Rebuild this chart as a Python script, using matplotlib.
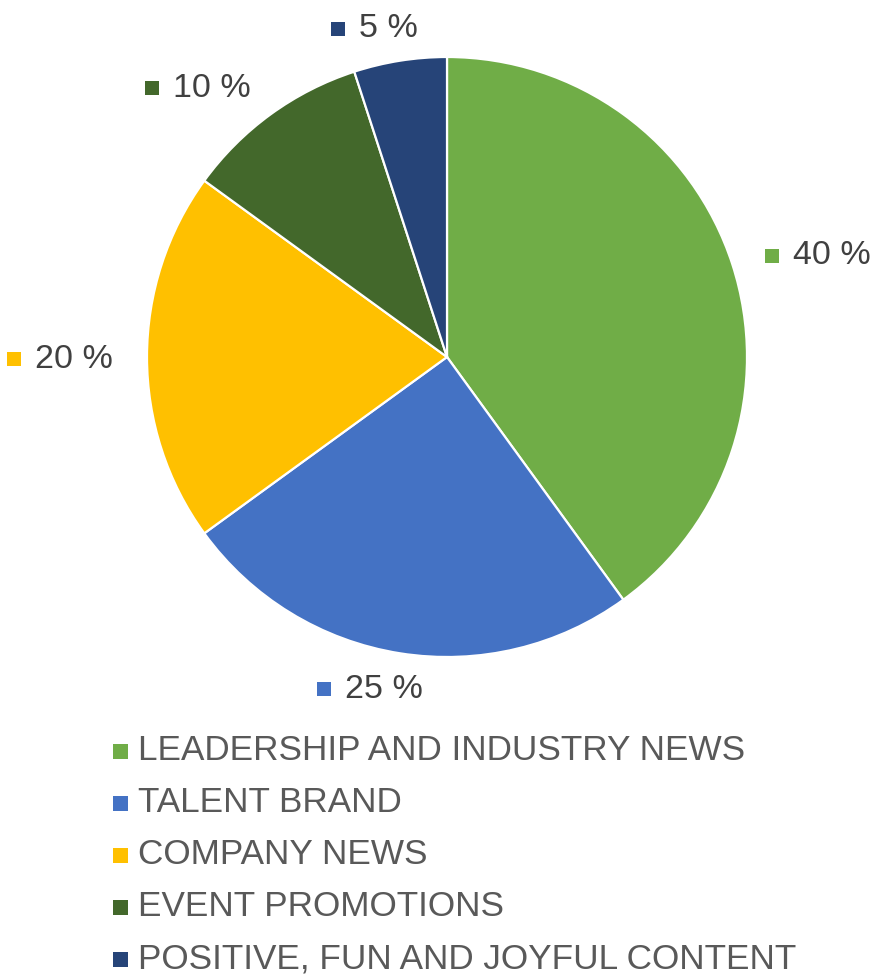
import numpy as np
import matplotlib
matplotlib.use("Agg")
import matplotlib.pyplot as plt
from matplotlib.patches import Rectangle

plt.rcParams['font.family'] = ['Liberation Sans', 'DejaVu Sans']

categories = [
    "LEADERSHIP AND INDUSTRY NEWS",
    "TALENT BRAND",
    "COMPANY NEWS",
    "EVENT PROMOTIONS",
    "POSITIVE, FUN AND JOYFUL CONTENT",
]
shares = [40, 25, 20, 10, 5]
colors = ["#70AD47", "#4472C4", "#FFC000", "#43682B", "#264478"]

W, H = 882, 977
fig = plt.figure(figsize=(W / 100, H / 100), dpi=100)
ax = fig.add_axes([0, 0, 1, 1])

cx, cy, R = 447, H - 357, 300
wedges, _ = ax.pie(shares, colors=colors, startangle=90, counterclock=False,
                   center=(cx, cy), radius=R,
                   wedgeprops=dict(edgecolor="white", linewidth=1.6))
ax.set_xlim(0, W)
ax.set_ylim(0, H)
ax.axis("off")

fig.canvas.draw()
renderer = fig.canvas.get_renderer()

label_color = "#404040"
sq = 14      # square marker size (px)
gap = 14     # gap between square and text
r_lab = R * 1.115

for w, val, col in zip(wedges, shares, colors):
    ang = np.deg2rad((w.theta1 + w.theta2) / 2)
    c, s = np.cos(ang), np.sin(ang)
    px, py = cx + r_lab * c, cy + r_lab * s - 2
    t = ax.text(0, 0, f"{val} %", fontsize=24.5, color=label_color,
                ha="left", va="center")
    tw = t.get_window_extent(renderer).width
    total = sq + gap + tw
    shift = total / 2 * np.sign(c) * min(1.0, abs(c) * 3)
    x0 = px + shift - total / 2
    ax.add_patch(Rectangle((x0, py - sq / 2), sq, sq, color=col, lw=0))
    t.set_position((x0 + sq + gap, py))

# legend
leg_color = "#595959"
y0, dy = H - 751, 52
for i, (name, col) in enumerate(zip(categories, colors)):
    y = y0 - i * dy
    ax.add_patch(Rectangle((113, y - 7.5), 15, 15, color=col, lw=0))
    ax.text(138, y, name, fontsize=25.3, color=leg_color, ha="left", va="center")

fig.savefig("out.png", dpi=100)
